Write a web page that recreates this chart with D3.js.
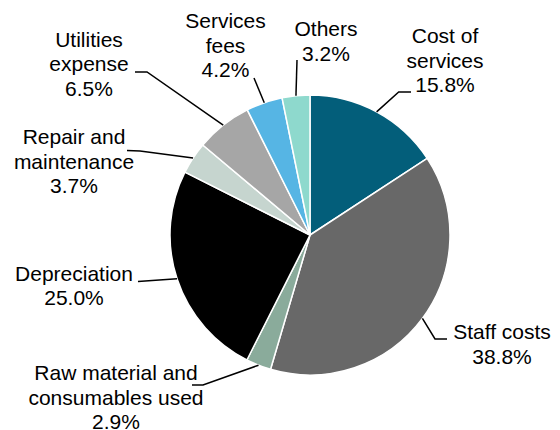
<!DOCTYPE html>
<html>
<head>
<meta charset="utf-8">
<script src="https://cdn.jsdelivr.net/npm/d3@7/dist/d3.min.js"></script>
<style>
  html, body { margin: 0; padding: 0; background: #fff; }
  svg { display: block; }
  text { font-family: "Liberation Sans", Arial, sans-serif; font-size: 21px; fill: #000; }
</style>
</head>
<body>
<svg id="chart" width="560" height="430"></svg>
<script>
// Expense breakdown, clockwise from 12 o'clock
const categories = [
  "Cost of services",
  "Staff costs",
  "Raw material and consumables used",
  "Depreciation",
  "Repair and maintenance",
  "Utilities expense",
  "Services fees",
  "Others"
];
const shares = [15.8, 38.8, 2.9, 25.0, 3.7, 6.5, 4.2, 3.2];
const labelLines = [
  ["Cost of", "services"],
  ["Staff costs"],
  ["Raw material and", "consumables used"],
  ["Depreciation"],
  ["Repair and", "maintenance"],
  ["Utilities", "expense"],
  ["Services", "fees"],
  ["Others"]
];

const colors = ["#035e7a", "#686868", "#8aab9b", "#000000", "#c6d5cf", "#a6a6a6", "#56b5e4", "#8ed9cd"];

// Label anchors (centre x, first baseline) and leader elbows
const labelLayout = [
  { x: 445, y: 43.3, leader: [[398.7, 92], [411, 92]] },
  { x: 502, y: 339,  leader: [[435, 339], [447, 339]] },
  { x: 116, y: 380,  leader: [[203, 385], [192, 385]] },
  { x: 74,  y: 280.7, leader: [[138, 281.5]] },
  { x: 74,  y: 144,  leader: [[140, 151], [127, 150.5]] },
  { x: 89,  y: 46.7, leader: [[147, 72], [135, 72]] },
  { x: 225.5, y: 28, leader: [[254, 78]] },
  { x: 326, y: 36,   leader: [[297, 60]] }
];
const lineHeight = 24.5;

const cx = 310, cy = 235, radius = 140;
const svg = d3.select("#chart");

const data = categories.map((c, i) => ({ name: c, value: shares[i], i }));
const pie = d3.pie().sort(null).value(d => d.value);
const arcs = pie(data);
const arc = d3.arc().innerRadius(0).outerRadius(radius);

const g = svg.append("g").attr("transform", `translate(${cx},${cy})`);

g.selectAll("path.slice")
  .data(arcs)
  .join("path")
  .attr("class", "slice")
  .attr("d", arc)
  .attr("fill", d => colors[d.data.i])
  .attr("stroke", "#fff")
  .attr("stroke-width", 1.5)
  .attr("stroke-linejoin", "round");

// Leader lines from the slice's outer edge at its mid-angle
const line = d3.line();
svg.selectAll("path.leader")
  .data(arcs)
  .join("path")
  .attr("class", "leader")
  .attr("fill", "none")
  .attr("stroke", "#000")
  .attr("stroke-width", 1.5)
  .attr("d", d => {
    const a = (d.startAngle + d.endAngle) / 2;
    const p0 = [cx + radius * Math.sin(a), cy - radius * Math.cos(a)];
    return line([p0, ...labelLayout[d.data.i].leader]);
  });

// Labels: name lines followed by the percentage
const fmt = d3.format(".1f");
const labels = svg.selectAll("text.label")
  .data(arcs)
  .join("text")
  .attr("class", "label")
  .attr("text-anchor", "middle");

labels.each(function(d) {
  const L = labelLayout[d.data.i];
  const lines = labelLines[d.data.i].concat([fmt(d.data.value) + "%"]);
  d3.select(this).selectAll("tspan")
    .data(lines)
    .join("tspan")
    .attr("x", L.x)
    .attr("y", (s, k) => L.y + k * lineHeight)
    .text(s => s);
});
</script>
</body>
</html>
